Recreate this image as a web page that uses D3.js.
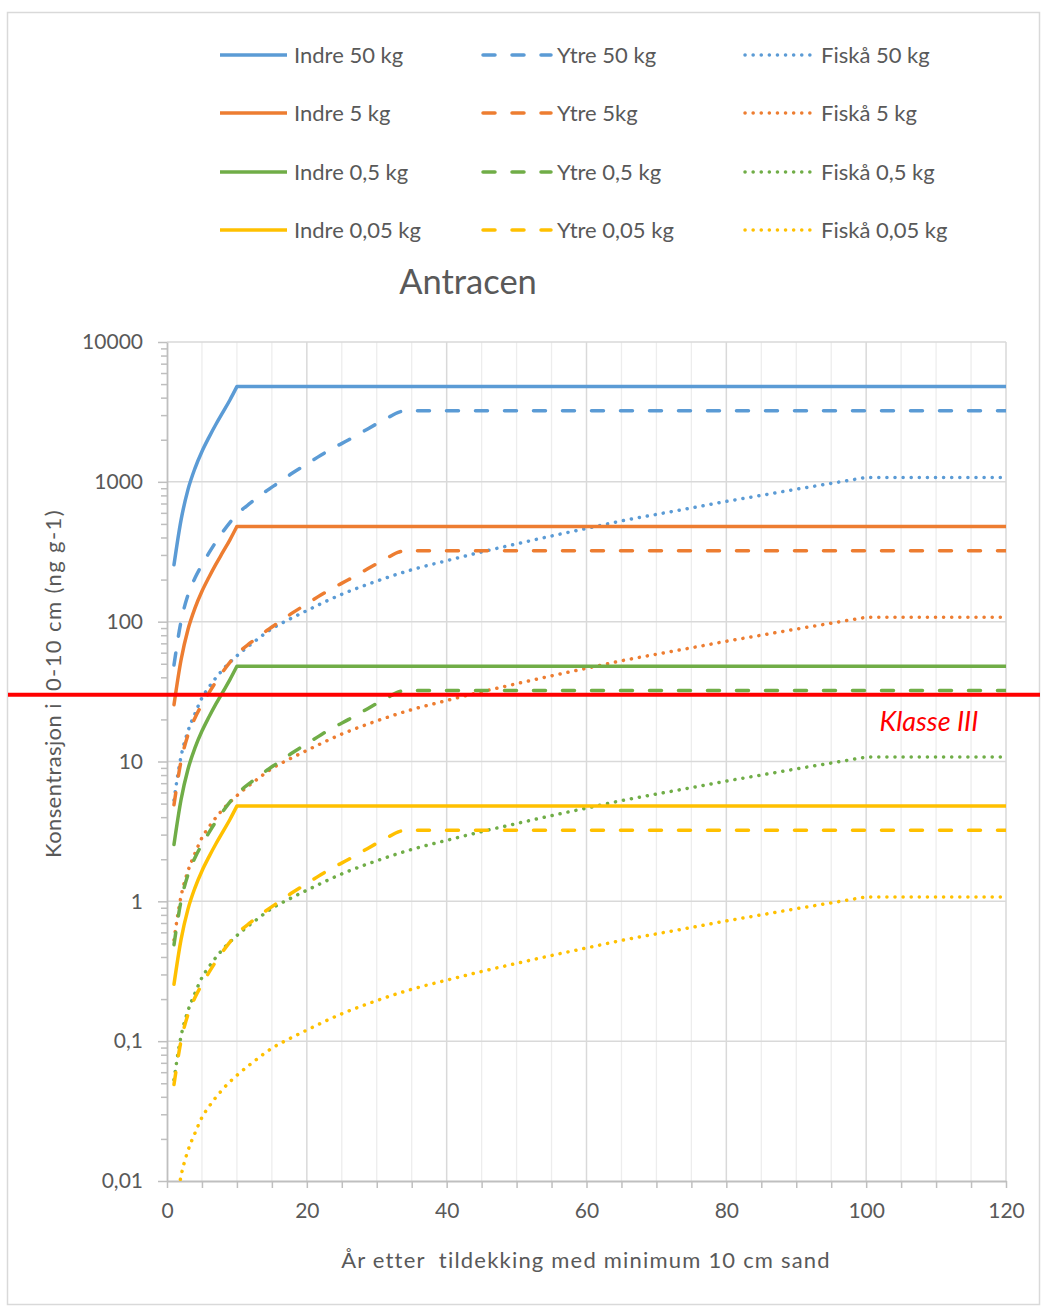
<!DOCTYPE html>
<html>
<head>
<meta charset="utf-8">
<script src="https://cdn.jsdelivr.net/npm/d3@7"></script>
<style>
  body { margin: 0; background: #fff; }
  svg { display: block; font-family: Lato, "Open Sans", "Noto Sans", sans-serif; }
</style>
</head>
<body>
<svg id="chart" width="1044" height="1310"></svg>
<script>
// ---- Data: concentration (ng/g) in 0-10 cm layer vs. years after capping ----
const indreYears = [1, 2, 3, 4, 5, 6, 7, 8, 9, 10, 120];
const indre50  = [255, 530, 880, 1250, 1650, 2080, 2580, 3150, 3850, 4800, 4800];
const indre5   = [25.5, 53, 88, 125, 165, 208, 258, 315, 385, 480, 480];
const indre05  = [2.55, 5.3, 8.8, 12.5, 16.5, 20.8, 25.8, 31.5, 38.5, 48, 48];
const indre005 = [0.255, 0.53, 0.88, 1.25, 1.65, 2.08, 2.58, 3.15, 3.85, 4.8, 4.8];

const ytreYears = [1, 2, 3, 4, 5, 6, 8, 10, 12, 14, 16, 18, 20, 22, 24, 26, 28, 30, 32, 33, 34, 120];
const ytre50  = [49, 100, 155, 205, 255, 310, 440, 585, 710, 845, 990, 1160, 1340, 1550, 1770, 2000, 2280, 2600, 2950, 3130, 3220, 3220];
const ytre5   = [4.9, 10, 15.5, 20.5, 25.5, 31, 44, 58.5, 71, 84.5, 99, 116, 134, 155, 177, 200, 228, 260, 295, 313, 322, 322];
const ytre05  = [0.49, 1.0, 1.55, 2.05, 2.55, 3.1, 4.4, 5.85, 7.1, 8.45, 9.9, 11.6, 13.4, 15.5, 17.7, 20, 22.8, 26, 29.5, 31.3, 32.2, 32.2];
const ytre005 = [0.049, 0.1, 0.155, 0.205, 0.255, 0.31, 0.44, 0.585, 0.71, 0.845, 0.99, 1.16, 1.34, 1.55, 1.77, 2.0, 2.28, 2.6, 2.95, 3.13, 3.22, 3.22];

const fiskaYears = [1, 2, 3, 4, 5, 6, 8, 10, 12.5, 15, 17.5, 20, 25, 30, 35, 40, 45, 50, 55, 60, 65, 70, 75, 80, 85, 90, 95, 100, 120];
const fiska50  = [5.3, 10.8, 16.5, 22, 28.5, 34, 45.5, 57, 72, 89, 104, 120, 157, 195, 235, 273, 315, 360, 410, 464, 525, 585, 650, 724, 800, 885, 975, 1075, 1075];
const fiska5   = [0.53, 1.08, 1.65, 2.2, 2.85, 3.4, 4.55, 5.7, 7.2, 8.9, 10.4, 12, 15.7, 19.5, 23.5, 27.3, 31.5, 36, 41, 46.4, 52.5, 58.5, 65, 72.4, 80, 88.5, 97.5, 107.5, 107.5];
const fiska05  = [0.053, 0.108, 0.165, 0.22, 0.285, 0.34, 0.455, 0.57, 0.72, 0.89, 1.04, 1.2, 1.57, 1.95, 2.35, 2.73, 3.15, 3.6, 4.1, 4.64, 5.25, 5.85, 6.5, 7.24, 8.0, 8.85, 9.75, 10.75, 10.75];
const fiska005 = [0.0053, 0.0108, 0.0165, 0.022, 0.0285, 0.034, 0.0455, 0.057, 0.072, 0.089, 0.104, 0.12, 0.157, 0.195, 0.235, 0.273, 0.315, 0.36, 0.41, 0.464, 0.525, 0.585, 0.65, 0.724, 0.8, 0.885, 0.975, 1.075, 1.075];

const klasseIII = 30;

const legendLabels = [
  ["Indre 50 kg",   "Ytre 50 kg",   "Fiskå 50 kg"],
  ["Indre 5 kg",    "Ytre 5kg",     "Fiskå 5 kg"],
  ["Indre 0,5 kg",  "Ytre 0,5 kg",  "Fiskå 0,5 kg"],
  ["Indre 0,05 kg", "Ytre 0,05 kg", "Fiskå 0,05 kg"]
];
const massColors = ["#5B9BD5", "#ED7D31", "#70AD47", "#FFC000"];
const yTickValues = [0.01, 0.1, 1, 10, 100, 1000, 10000];
const xLabelValues = [0, 20, 40, 60, 80, 100, 120];

const seriesTable = [
  [[indreYears, indre50],  [ytreYears, ytre50],  [fiskaYears, fiska50]],
  [[indreYears, indre5],   [ytreYears, ytre5],   [fiskaYears, fiska5]],
  [[indreYears, indre05],  [ytreYears, ytre05],  [fiskaYears, fiska05]],
  [[indreYears, indre005], [ytreYears, ytre005], [fiskaYears, fiska005]]
];

// ---- Layout ----
const svg = d3.select("#chart");
const textColor = "#595959";
const plot = { left: 167, right: 1006, top: 342, bottom: 1181 };
const LW = 3.5;
const dashStyles = [null, "12,17", "0.1,8"];

const x = d3.scaleLinear().domain([0, 120]).range([plot.left, plot.right]);
const y = d3.scaleLog().domain([0.01, 10000]).range([plot.bottom, plot.top]);

// outer frame
svg.append("rect")
  .attr("x", 7.5).attr("y", 12.5).attr("width", 1032).attr("height", 1292)
  .attr("fill", "#fff").attr("stroke", "#D9D9D9").attr("stroke-width", 1.5);

// ---- Legend ----
const legendCols = [{ x0: 220, x1: 287, tx: 294 }, { x0: 483, x1: 551, tx: 557 }, { x0: 745, x1: 812, tx: 821 }];
const legendRows = [55, 113, 172, 230];
const legend = svg.append("g");
legendLabels.forEach((row, i) => {
  row.forEach((label, j) => {
    const c = legendCols[j], yy = legendRows[i];
    legend.append("line")
      .attr("x1", c.x0).attr("x2", c.x1).attr("y1", yy).attr("y2", yy)
      .attr("stroke", massColors[i]).attr("stroke-width", LW)
      .attr("stroke-linecap", j === 0 ? "butt" : "round")
      .attr("stroke-dasharray", dashStyles[j]);
    legend.append("text")
      .attr("x", c.tx).attr("y", yy + 8)
      .attr("fill", textColor).attr("font-size", 22)
      .text(label);
  });
});

// ---- Title ----
svg.append("text")
  .attr("x", 468).attr("y", 294).attr("text-anchor", "middle")
  .attr("fill", textColor).attr("font-size", 34.5)
  .text("Antracen");

// ---- Gridlines ----
const grid = svg.append("g");
d3.range(5, 121, 5).forEach(v => {
  const major = v % 20 === 0;
  grid.append("line")
    .attr("x1", x(v)).attr("x2", x(v)).attr("y1", plot.top).attr("y2", plot.bottom)
    .attr("stroke", major ? "#D9D9D9" : "#EDEDED").attr("stroke-width", major ? 1.5 : 1.3);
});
yTickValues.slice(1).forEach(v => {
  grid.append("line")
    .attr("x1", plot.left).attr("x2", plot.right).attr("y1", y(v)).attr("y2", y(v))
    .attr("stroke", "#D9D9D9").attr("stroke-width", 1.5);
});

// ---- Axes ----
const fmtY = d => {
  if (!yTickValues.some(t => Math.abs(t - d) / t < 1e-9)) return "";
  return String(d).replace(".", ",");
};
const yAxis = svg.append("g")
  .attr("transform", `translate(${plot.left},0)`)
  .call(d3.axisLeft(y).tickValues(y.ticks()).tickFormat(fmtY).tickSize(9).tickSizeOuter(0).tickPadding(15));
yAxis.selectAll(".tick line")
  .attr("x2", d => fmtY(d) === "" ? -6 : -9);

const xAxis = svg.append("g")
  .attr("transform", `translate(0,${plot.bottom})`)
  .call(d3.axisBottom(x).tickValues(d3.range(0, 121, 5))
    .tickFormat(d => xLabelValues.includes(d) ? d : "")
    .tickSize(7).tickSizeOuter(0).tickPadding(15));

[yAxis, xAxis].forEach(g => {
  g.select(".domain").attr("stroke", "#BFBFBF").attr("stroke-width", 1.8);
  g.selectAll(".tick line").attr("stroke", "#BFBFBF").attr("stroke-width", 1.5);
  g.selectAll(".tick text").attr("fill", textColor).attr("font-size", 21)
    .attr("font-family", 'Lato, "Open Sans", sans-serif');
});

// axis titles
svg.append("text")
  .attr("x", 586).attr("y", 1268).attr("text-anchor", "middle")
  .attr("fill", textColor).attr("font-size", 22).attr("letter-spacing", 1.2)
  .style("white-space", "pre")
  .text("År etter  tildekking med minimum 10 cm sand");

// rotated y title, set in two runs so the word spacing follows the printed layout
const yTitle = svg.append("text")
  .attr("transform", "translate(61,858) rotate(-90)")
  .attr("fill", textColor).attr("font-size", 22);
yTitle.append("tspan").attr("letter-spacing", 0.4).text("Konsentrasjon i");
yTitle.append("tspan").attr("dx", 5).attr("letter-spacing", 1.4).text(" 0-10 cm (ng g-1)");

// ---- Series ----
svg.append("clipPath").attr("id", "plotClip")
  .append("rect")
  .attr("x", plot.left).attr("y", plot.top)
  .attr("width", plot.right - plot.left).attr("height", plot.bottom - plot.top);

const rise = d3.line().curve(d3.curveMonotoneX);
function seriesPath(years, values) {
  const pts = years.map((t, i) => [x(t), y(values[i])]);
  const last = pts[pts.length - 1];
  // rising phase is smoothed; the final plateau is a straight run to year 120
  return rise(pts.slice(0, -1)) + "L" + last[0] + "," + last[1];
}

const seriesG = svg.append("g").attr("clip-path", "url(#plotClip)");
seriesTable.forEach((row, i) => {
  row.forEach(([years, values], j) => {
    seriesG.append("path")
      .attr("d", seriesPath(years, values))
      .attr("fill", "none")
      .attr("stroke", massColors[i])
      .attr("stroke-width", LW)
      .attr("stroke-linejoin", "round")
      .attr("stroke-linecap", "round")
      .attr("stroke-dasharray", dashStyles[j]);
  });
});

// ---- Threshold: Klasse III ----
svg.append("line")
  .attr("x1", 8).attr("x2", 1040)
  .attr("y1", y(klasseIII)).attr("y2", y(klasseIII))
  .attr("stroke", "#FF0000").attr("stroke-width", 4);

svg.append("text")
  .attr("x", 929).attr("y", 731).attr("text-anchor", "middle")
  .attr("fill", "#FF0000").attr("font-size", 27).attr("font-style", "italic")
  .text("Klasse III");
</script>
</body>
</html>
